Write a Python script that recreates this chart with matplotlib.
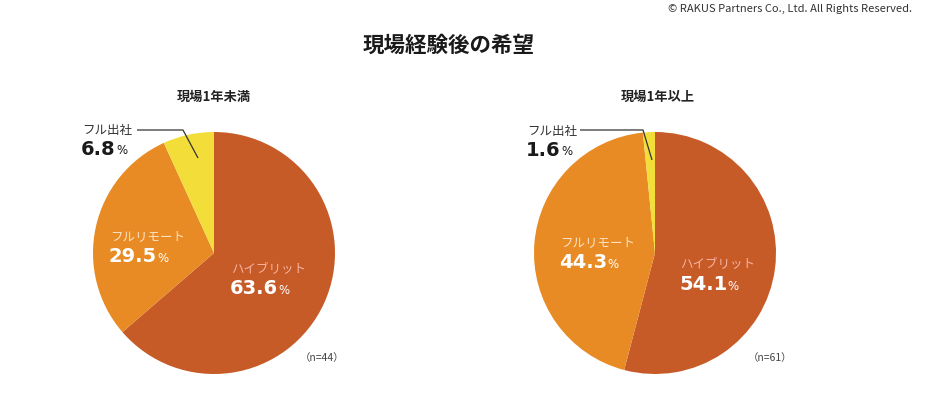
import matplotlib
matplotlib.use('Agg')
import matplotlib.pyplot as plt

plt.rcParams['font.family'] = ['Noto Sans CJK JP', 'DejaVu Sans']

# データ
categories = ['ハイブリット', 'フルリモート', 'フル出社']
groups = ['現場1年未満', '現場1年以上']
share_under1 = [63.6, 29.5, 6.8]
share_over1 = [54.1, 44.3, 1.6]
sample_sizes = [44, 61]

colors = ['#C75B28', '#E88B24', '#F3DD39']
label_colors = ['#F7B3A0', '#FBE3C4', '#333333']
num_colors = ['white', 'white', '#1a1a1a']

W, H = 951, 394
fig = plt.figure(figsize=(W / 100, H / 100), dpi=100)
ax = fig.add_axes([0, 0, 1, 1])

def Y(y):
    # 画像のピクセル座標(上が0) -> 軸座標
    return H - y

centers = [(214, Y(253)), (655, Y(253))]
radius = 121

# ラベル位置 (x, ラベルy, 数値y)
label_pos = [
    [(231, 270, 289), (110, 237, 257), (82, 130, 149)],
    [(680, 265, 285), (560, 243, 263), (527, 131, 150)],
]
leaders = [
    [(137, 130), (183, 130), (198, 158)],
    [(580, 130), (643, 130), (652, 160)],
]
sub_x = [214, 658]
n_pos = [(322, 358), (770, 358)]

for i, vals in enumerate([share_under1, share_over1]):
    ax.pie(vals, colors=colors, startangle=90, counterclock=False,
           center=centers[i], radius=radius,
           wedgeprops=dict(linewidth=0))
    ax.text(sub_x[i], Y(97), groups[i], ha='center', va='center',
            fontsize=9.5, fontweight='bold', color='#222222')
    for j, cat in enumerate(categories):
        x, ly, ny = label_pos[i][j]
        ax.text(x, Y(ly), cat, ha='left', va='center', fontsize=9,
                color=label_colors[j])
        t = ax.text(x - 1, Y(ny), f'{vals[j]:.1f}', ha='left', va='center',
                    fontsize=14, fontweight='bold', color=num_colors[j],
                    family='DejaVu Sans')
        ax.annotate('%', xy=(1.0, 0.1), xycoords=t, ha='left', va='bottom',
                    fontsize=8.5, color=num_colors[j], family='DejaVu Sans',
                    xytext=(0.3, 0), textcoords='offset points')
    pts = leaders[i]
    ax.plot([p[0] for p in pts], [Y(p[1]) for p in pts], color='#333333',
            linewidth=0.9, solid_capstyle='butt')
    ax.text(n_pos[i][0], Y(n_pos[i][1]), f'（n={sample_sizes[i]}）',
            ha='center', va='center', fontsize=7.5, color='#444444')

ax.text(449, Y(45), '現場経験後の希望', ha='center', va='center',
        fontsize=15.5, fontweight='bold', color='#1a1a1a')
ax.text(912, Y(9), '© RAKUS Partners Co., Ltd. All Rights Reserved.',
        ha='right', va='center', fontsize=8, color='#333333')

ax.set_xlim(0, W)
ax.set_ylim(0, H)
ax.set_aspect('auto')
ax.axis('off')

fig.savefig('out.png', dpi=100, facecolor='white')
